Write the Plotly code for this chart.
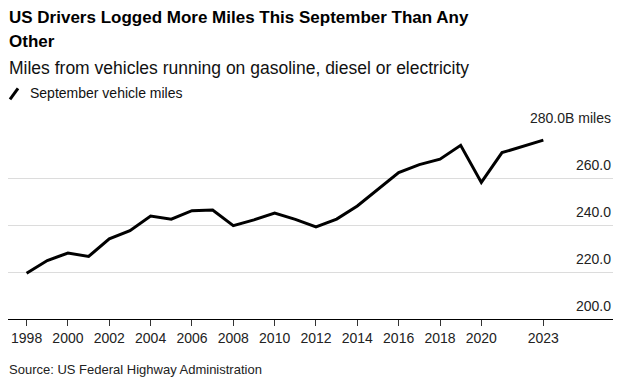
import plotly.graph_objects as go

years = list(range(1998, 2024))
miles = [219.5, 224.9, 228.1, 226.6, 234.1, 237.6, 243.8, 242.5, 246.1, 246.4,
         239.7, 242.2, 245.1, 242.4, 239.2, 242.5, 248.1, 255.3, 262.3, 265.7,
         268.0, 273.9, 258.1, 270.8, 273.4, 276.1]
x_ticks = [1998, 2000, 2002, 2004, 2006, 2008, 2010, 2012, 2014, 2016, 2018, 2020, 2023]
y_ticks = [200, 220, 240, 260, 280]
y_tick_text = ["200.0", "220.0", "240.0", "260.0", "280.0B miles"]

# the page body has an 8px margin, so the figure is drawn 8px in from the corner
OFF = 8
W, H = 626 - OFF, 383 - OFF
# plot area edges in screenshot pixels
L, R, T, B = 8, 613, 130.7, 319.3


def py(px):
    return (B - px) / (B - T)


def px_x(px):
    return (px - L) / (R - L)


FONT = "Liberation Sans, Arial, sans-serif"

fig = go.Figure()
fig.add_trace(go.Scatter(x=years, y=miles, mode="lines",
                         line=dict(color="#000000", width=3),
                         name="September vehicle miles", showlegend=False,
                         hoverinfo="x+y"))

fig.update_layout(
    width=W, height=H, autosize=False,
    margin=dict(l=L - OFF, r=626 - R, t=T - OFF, b=383 - B, pad=0),
    paper_bgcolor="white", plot_bgcolor="white",
    font=dict(family=FONT, size=14, color="#222222"),
    showlegend=False,
)
fig.update_xaxes(
    range=[1997.1, 2026.37], tickmode="array", tickvals=x_ticks,
    ticktext=[str(v) for v in x_ticks],
    showgrid=False, zeroline=False, showline=True, linecolor="#000000", linewidth=1,
    ticks="outside", ticklen=6, tickcolor="#333333", tickwidth=1,
    tickfont=dict(size=14, color="#222222"),
)
fig.update_yaxes(
    range=[200, 280], tickmode="array", tickvals=y_ticks, showticklabels=False,
    showgrid=True, gridcolor="#dcdcdc", gridwidth=1, zeroline=False, showline=False,
    ticks="",
)

for v, t in zip(y_ticks, y_tick_text):
    fig.add_annotation(xref="paper", yref="y", x=1, y=v, text=t, showarrow=False,
                       xanchor="right", yanchor="middle", xshift=-1, yshift=13,
                       borderpad=0, font=dict(size=14, color="#222222"))

annos = [
    dict(text="<b>US Drivers Logged More Miles This September Than Any</b>",
         x=0, y=py(17), size=17, color="#000000"),
    dict(text="<b>Other</b>", x=0, y=py(41), size=17, color="#000000"),
    dict(text="Miles from vehicles running on gasoline, diesel or electricity",
         x=0, y=py(67.5), size=17.5, color="#111111"),
    dict(text="September vehicle miles",
         x=px_x(29), y=py(92.5), size=14, color="#111111"),
    dict(text="Source: US Federal Highway Administration",
         x=0, y=py(369.5), size=13, color="#222222"),
]
for a in annos:
    fig.add_annotation(xref="paper", yref="paper", showarrow=False, borderpad=0,
                       x=a["x"], y=a["y"], text=a["text"], xanchor="left",
                       yanchor="middle", align="left",
                       font=dict(family=FONT, size=a["size"], color=a["color"]))

fig.add_shape(type="line", xref="paper", yref="paper",
              x0=px_x(10), y0=py(99), x1=px_x(18), y1=py(88),
              line=dict(color="#000000", width=3))

fig.write_html("out.html")
